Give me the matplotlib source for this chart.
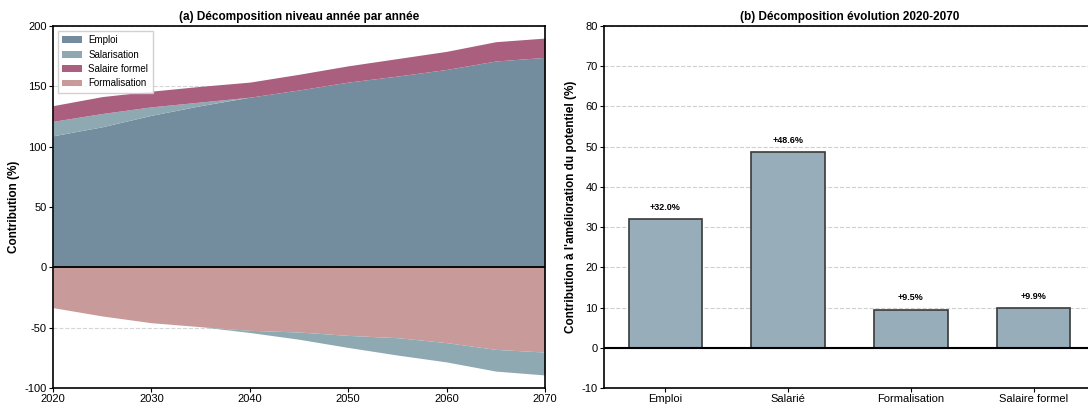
"""Décomposition du potentiel : niveau annuel et évolution 2020-2070."""

import matplotlib

matplotlib.use("Agg")
import matplotlib.pyplot as plt
import numpy as np

plt.rcParams["font.family"] = ["Liberation Sans", "DejaVu Sans"]
plt.rcParams["axes.unicode_minus"] = False

ANNEES = [2020, 2025, 2030, 2035, 2040, 2045, 2050, 2055, 2060, 2065, 2070]
EMPLOI = [109, 116.5, 126, 134, 141, 147, 153.5, 158.5, 164, 171, 174]
SALARISATION = [12, 11, 7, 3, -1.8, -6, -10, -14.4, -16, -18, -19]
SALAIRE_FORMEL = [13, 14, 13, 13, 12.5, 13, 13.5, 14.5, 15, 16, 16]
FORMALISATION = [-33.4, -40.3, -45.9, -49.2, -52.2, -53.6, -56.4, -58.3, -62.4, -68, -70.2]

CATEGORIES = ["Emploi", "Salarié", "Formalisation", "Salaire formel"]
EVOLUTION = [32.0, 48.6, 9.5, 9.9]

COULEURS = {
    "Emploi": "#738d9e",
    "Salarisation": "#8fa9b3",
    "Salaire formel": "#aa5f7f",
    "Formalisation": "#c99a9a",
}


def panneau_niveau(ax):
    annees = np.array(ANNEES)
    emploi = np.array(EMPLOI)
    sal = np.array(SALARISATION)
    sal_pos = np.clip(sal, 0, None)
    sal_neg = np.clip(sal, None, 0)
    sf = np.array(SALAIRE_FORMEL)
    form = np.array(FORMALISATION)

    h1 = emploi
    h2 = h1 + sal_pos
    h3 = h2 + sf
    ax.fill_between(annees, 0, h1, color=COULEURS["Emploi"], lw=0, label="Emploi", zorder=2)
    ax.fill_between(annees, h1, h2, color=COULEURS["Salarisation"], lw=0, label="Salarisation", zorder=2)
    ax.fill_between(annees, h2, h3, color=COULEURS["Salaire formel"], lw=0, label="Salaire formel", zorder=2)
    ax.fill_between(annees, 0, form, color=COULEURS["Formalisation"], lw=0, label="Formalisation", zorder=2)
    ax.fill_between(annees, form, form + sal_neg, color=COULEURS["Salarisation"], lw=0, zorder=2)

    ax.axhline(0, color="black", lw=1.3, zorder=3)
    ax.set_xlim(2020, 2070)
    ax.set_ylim(-100, 200)
    ax.set_xticks(range(2020, 2071, 10))
    ax.set_yticks(range(-100, 201, 50))
    ax.grid(axis="y", ls="--", color="#bbbbbb", alpha=0.6, lw=0.8, zorder=2.5)
    ax.set_ylabel("Contribution (%)", fontsize=8.5, fontweight="bold", labelpad=3)
    ax.set_title("(a) Décomposition niveau année par année", fontsize=8.5, fontweight="bold", pad=4)
    ax.legend(loc="upper left", fontsize=7, frameon=True, framealpha=0.9,
              edgecolor="#cccccc", fancybox=False, handlelength=2.0,
              handletextpad=0.7, labelspacing=0.45, borderpad=0.45)


def panneau_evolution(ax):
    x = np.arange(len(CATEGORIES))
    ax.bar(x, EVOLUTION, width=0.6, color="#97adb9", edgecolor="#3a3a3a", lw=1.2, zorder=2)
    for xi, v in zip(x, EVOLUTION):
        ax.text(xi, v + 1.8, f"+{v:.1f}%", ha="center", va="bottom", fontsize=6.5, fontweight="bold")
    ax.axhline(0, color="black", lw=1.5, zorder=3)
    ax.set_xlim(-0.5, len(CATEGORIES) - 0.5)
    ax.set_ylim(-10, 80)
    ax.set_yticks(range(-10, 81, 10))
    ax.set_xticks(x)
    ax.set_xticklabels(CATEGORIES)
    ax.grid(axis="y", ls="--", color="#bbbbbb", alpha=0.7, lw=0.8, zorder=0)
    ax.set_ylabel("Contribution à l'amélioration du potentiel (%)", fontsize=8.5,
                  fontweight="bold", labelpad=3)
    ax.set_title("(b) Décomposition évolution 2020-2070", fontsize=8.5, fontweight="bold", pad=4)


def main():
    fig = plt.figure(figsize=(10.88, 4.05), dpi=100)
    ax1 = fig.add_axes([53 / 1088, 17 / 405, 492 / 1088, 362 / 405])
    ax2 = fig.add_axes([604 / 1088, 17 / 405, 491 / 1088, 362 / 405])
    for ax in (ax1, ax2):
        ax.tick_params(labelsize=8, length=3, pad=1.5)
        for s in ax.spines.values():
            s.set_linewidth(1.2)
    panneau_niveau(ax1)
    panneau_evolution(ax2)
    fig.savefig("out.png", dpi=100)
    plt.close(fig)


if __name__ == "__main__":
    main()
